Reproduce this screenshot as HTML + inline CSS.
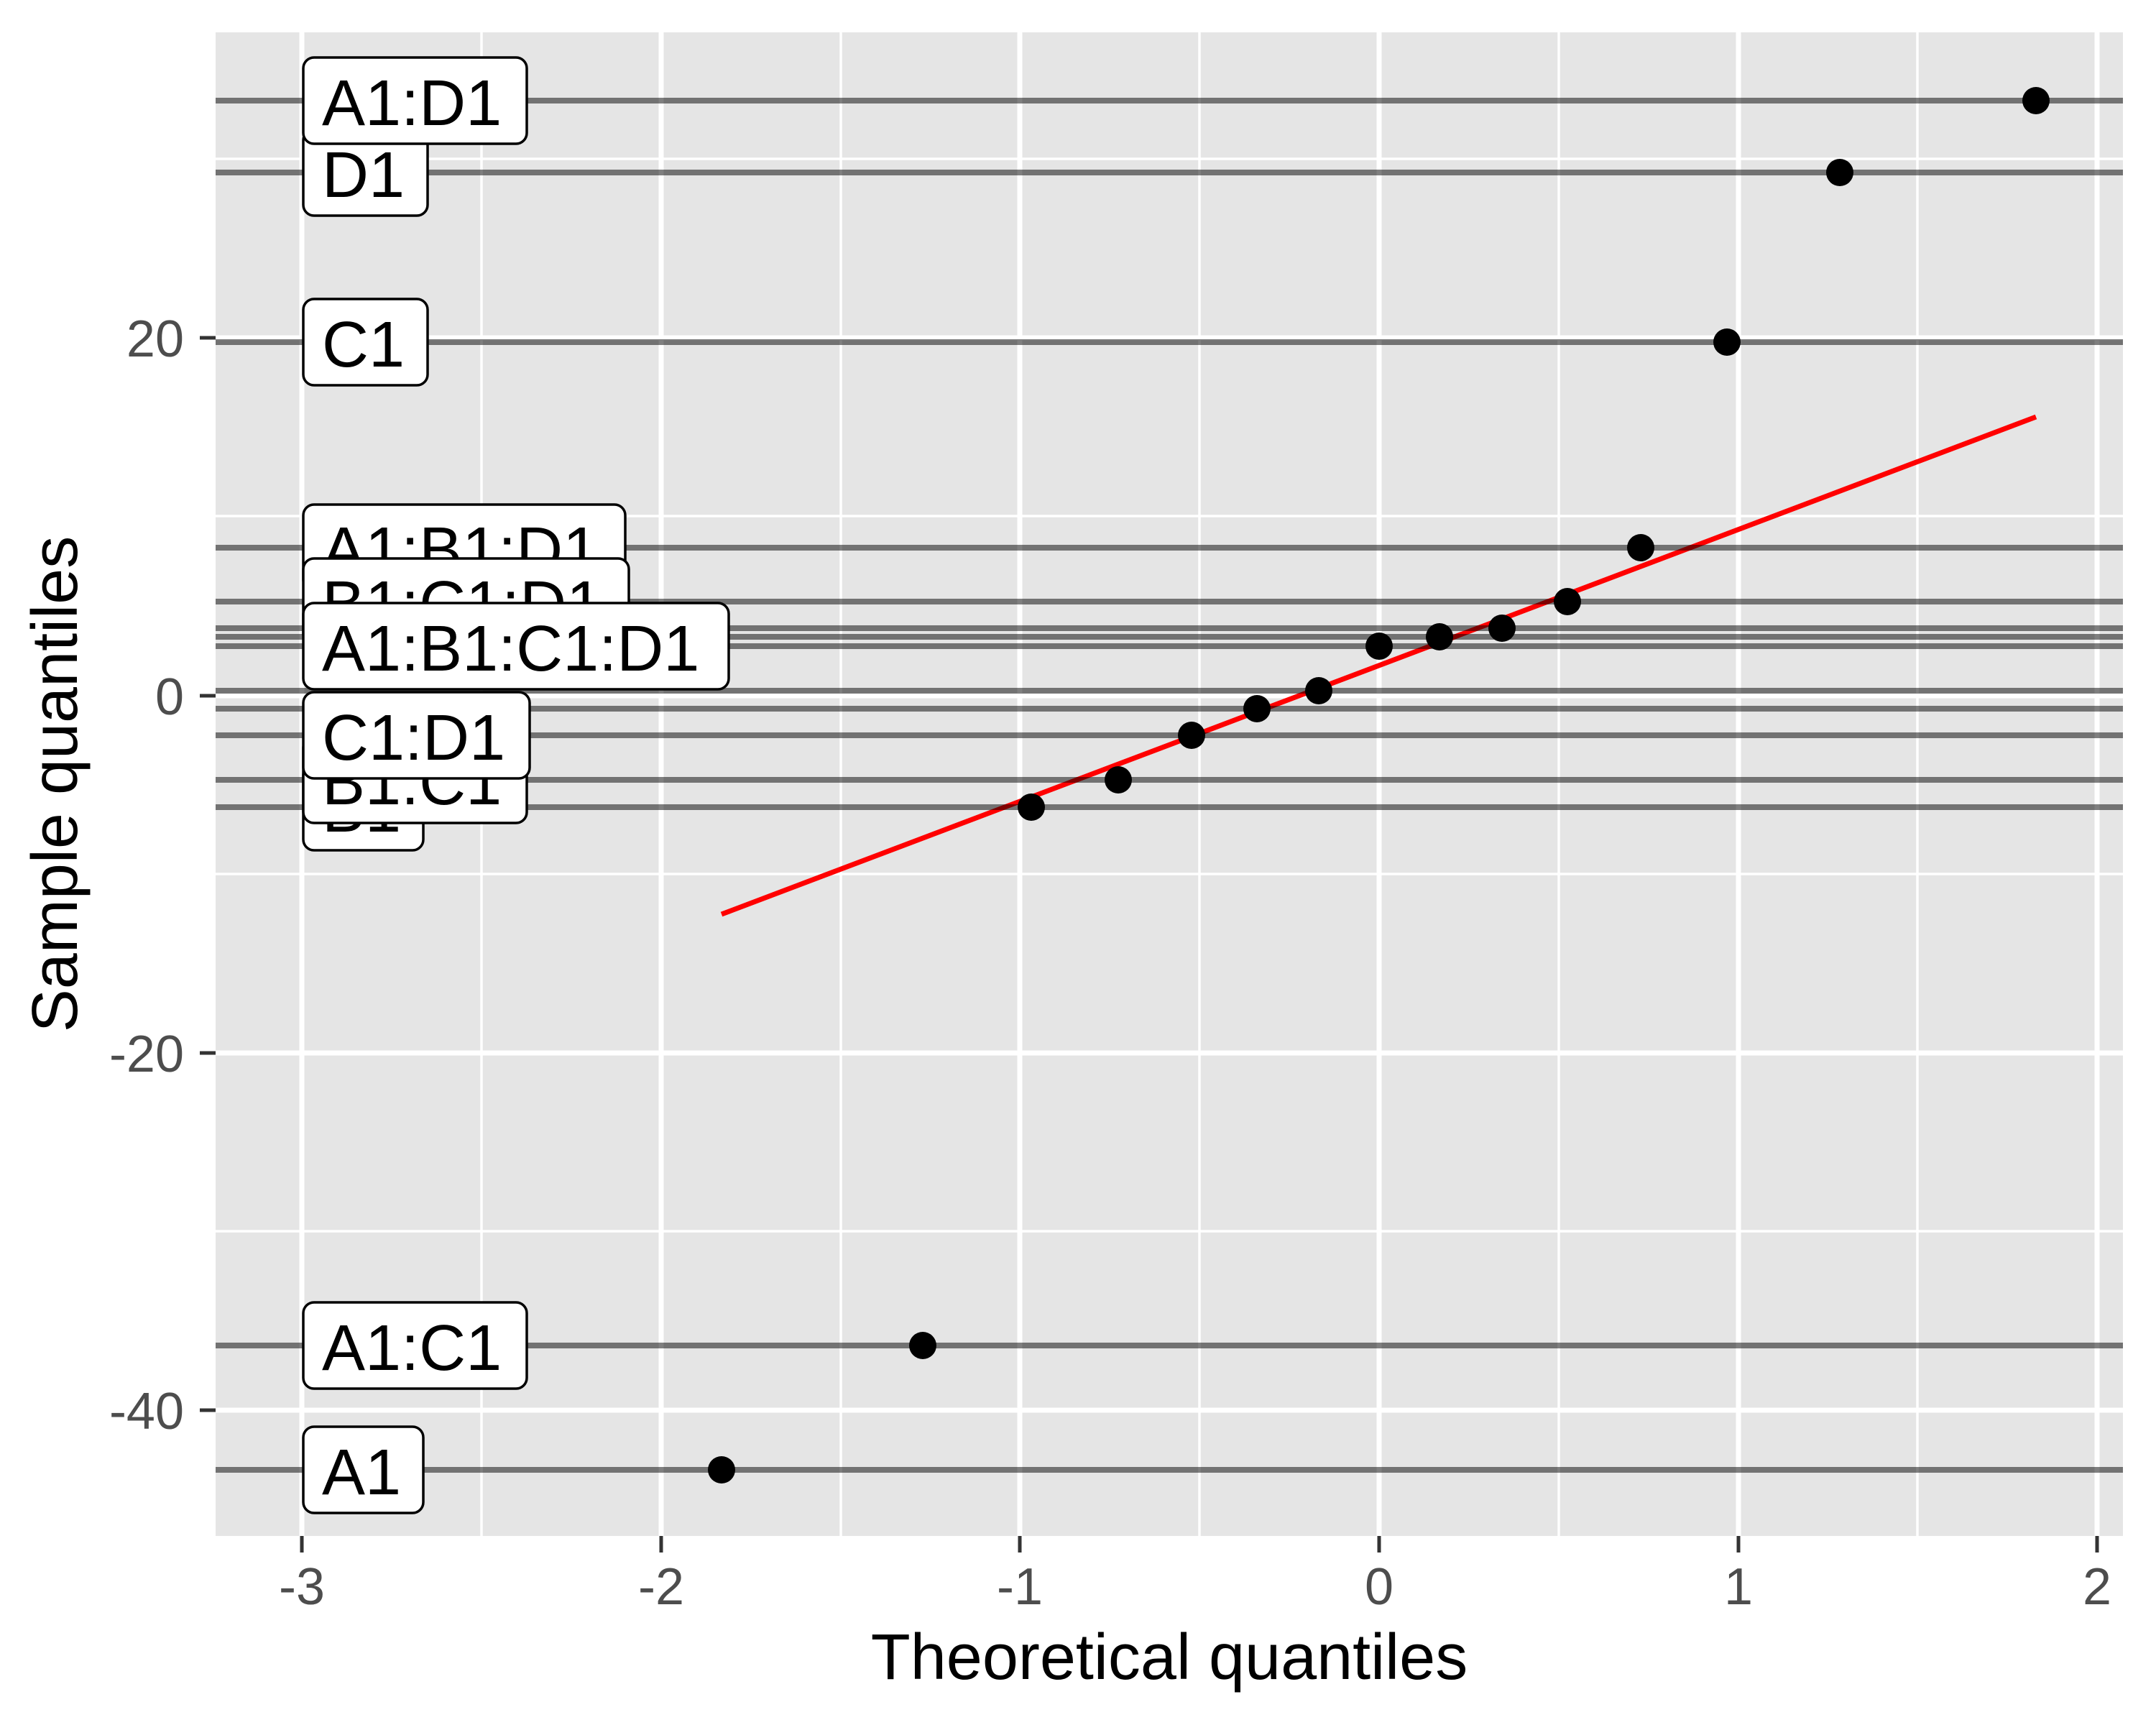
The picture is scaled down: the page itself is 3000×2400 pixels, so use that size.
<!DOCTYPE html>
<html><head><meta charset="utf-8"><style>html,body{margin:0;padding:0;background:#fff}svg{display:block}</style></head>
<body>
<svg width="3000" height="2400" viewBox="0 0 3000 2400" xmlns="http://www.w3.org/2000/svg" font-family="Liberation Sans, Arial, sans-serif">
<rect width="3000" height="2400" fill="#fff"/>
<rect x="300" y="45" width="2654" height="2092" fill="#e5e5e5"/>
<g stroke="#fff" stroke-width="3.5">
<line x1="670" y1="45" x2="670" y2="2137"/><line x1="1170" y1="45" x2="1170" y2="2137"/>
<line x1="1669" y1="45" x2="1669" y2="2137"/><line x1="2169" y1="45" x2="2169" y2="2137"/>
<line x1="2668" y1="45" x2="2668" y2="2137"/>
<line x1="300" y1="221" x2="2954" y2="221"/><line x1="300" y1="718" x2="2954" y2="718"/>
<line x1="300" y1="1216" x2="2954" y2="1216"/><line x1="300" y1="1713" x2="2954" y2="1713"/>
</g>
<g stroke="#fff" stroke-width="7">
<line x1="420" y1="45" x2="420" y2="2137"/><line x1="920" y1="45" x2="920" y2="2137"/>
<line x1="1419" y1="45" x2="1419" y2="2137"/><line x1="1919" y1="45" x2="1919" y2="2137"/>
<line x1="2419" y1="45" x2="2419" y2="2137"/><line x1="2918" y1="45" x2="2918" y2="2137"/>
<line x1="300" y1="470" x2="2954" y2="470"/><line x1="300" y1="968" x2="2954" y2="968"/>
<line x1="300" y1="1465" x2="2954" y2="1465"/><line x1="300" y1="1962" x2="2954" y2="1962"/>
</g>
<line x1="1004" y1="1272" x2="2833" y2="580" stroke="#ff0000" stroke-width="7"/>
<g fill="#000">
<circle cx="1004" cy="2045" r="19"/><circle cx="1284" cy="1872" r="19"/>
<circle cx="1435" cy="1123" r="19"/><circle cx="1556" cy="1085" r="19"/>
<circle cx="1658" cy="1023" r="19"/><circle cx="1749" cy="986" r="19"/>
<circle cx="1835" cy="961" r="19"/><circle cx="1919" cy="899" r="19"/>
<circle cx="2003" cy="886" r="19"/><circle cx="2090" cy="874" r="19"/>
<circle cx="2181" cy="837" r="19"/><circle cx="2283" cy="762" r="19"/>
<circle cx="2403" cy="476" r="19"/><circle cx="2560" cy="240" r="19"/>
<circle cx="2833" cy="140" r="19"/>
</g>
<g stroke="#000" stroke-opacity="0.5" stroke-width="8">
<line x1="300" y1="140" x2="2954" y2="140"/><line x1="300" y1="240" x2="2954" y2="240"/>
<line x1="300" y1="476" x2="2954" y2="476"/><line x1="300" y1="762" x2="2954" y2="762"/>
<line x1="300" y1="837" x2="2954" y2="837"/><line x1="300" y1="874" x2="2954" y2="874"/>
<line x1="300" y1="886" x2="2954" y2="886"/><line x1="300" y1="899" x2="2954" y2="899"/>
<line x1="300" y1="961" x2="2954" y2="961"/><line x1="300" y1="986" x2="2954" y2="986"/>
<line x1="300" y1="1023" x2="2954" y2="1023"/><line x1="300" y1="1085" x2="2954" y2="1085"/>
<line x1="300" y1="1123" x2="2954" y2="1123"/><line x1="300" y1="1872" x2="2954" y2="1872"/>
<line x1="300" y1="2045" x2="2954" y2="2045"/>
</g>
<g font-size="90" fill="#000">
<g><rect x="422" y="180" width="173" height="120" rx="15" fill="#fff" stroke="#000" stroke-width="3.5"/><text x="448" y="274">D1</text></g>
<g><rect x="422" y="80" width="311" height="120" rx="15" fill="#fff" stroke="#000" stroke-width="3.5"/><text x="448" y="174">A1:D1</text></g>
<g><rect x="422" y="416" width="173" height="120" rx="15" fill="#fff" stroke="#000" stroke-width="3.5"/><text x="448" y="510">C1</text></g>
<g><rect x="422" y="702" width="448" height="120" rx="15" fill="#fff" stroke="#000" stroke-width="3.5"/><text x="448" y="796">A1:B1:D1</text></g>
<g><rect x="422" y="777" width="453" height="120" rx="15" fill="#fff" stroke="#000" stroke-width="3.5"/><text x="448" y="871">B1:C1:D1</text></g>
<g><rect x="422" y="839" width="592" height="120" rx="15" fill="#fff" stroke="#000" stroke-width="3.5"/><text x="448" y="933">A1:B1:C1:D1</text></g>
<g><rect x="422" y="1063" width="167" height="120" rx="15" fill="#fff" stroke="#000" stroke-width="3.5"/><text x="448" y="1157">B1</text></g>
<g><rect x="422" y="1025" width="311" height="120" rx="15" fill="#fff" stroke="#000" stroke-width="3.5"/><text x="448" y="1119">B1:C1</text></g>
<g><rect x="422" y="963" width="315" height="120" rx="15" fill="#fff" stroke="#000" stroke-width="3.5"/><text x="448" y="1057">C1:D1</text></g>
<g><rect x="422" y="1812" width="311" height="120" rx="15" fill="#fff" stroke="#000" stroke-width="3.5"/><text x="448" y="1906">A1:C1</text></g>
<g><rect x="422" y="1985" width="167" height="120" rx="15" fill="#fff" stroke="#000" stroke-width="3.5"/><text x="448" y="2079">A1</text></g>
</g>
<g stroke="#333" stroke-width="5">
<line x1="278" y1="470" x2="300" y2="470"/><line x1="278" y1="968" x2="300" y2="968"/>
<line x1="278" y1="1465" x2="300" y2="1465"/><line x1="278" y1="1962" x2="300" y2="1962"/>
<line x1="420" y1="2137" x2="420" y2="2160"/><line x1="920" y1="2137" x2="920" y2="2160"/>
<line x1="1419" y1="2137" x2="1419" y2="2160"/><line x1="1919" y1="2137" x2="1919" y2="2160"/>
<line x1="2419" y1="2137" x2="2419" y2="2160"/><line x1="2918" y1="2137" x2="2918" y2="2160"/>
</g>
<g font-size="72" fill="#4d4d4d" text-anchor="end">
<text x="256" y="496">20</text><text x="256" y="994">0</text>
<text x="256" y="1491">-20</text><text x="256" y="1988">-40</text>
</g>
<g font-size="72" fill="#4d4d4d" text-anchor="middle">
<text x="420" y="2232">-3</text><text x="920" y="2232">-2</text><text x="1419" y="2232">-1</text>
<text x="1919" y="2232">0</text><text x="2419" y="2232">1</text><text x="2918" y="2232">2</text>
</g>
<text x="1627" y="2336" font-size="90" text-anchor="middle" fill="#000">Theoretical quantiles</text>
<text transform="translate(107,1091) rotate(-90)" font-size="90" text-anchor="middle" fill="#000">Sample quantiles</text>
</svg>
</body></html>
